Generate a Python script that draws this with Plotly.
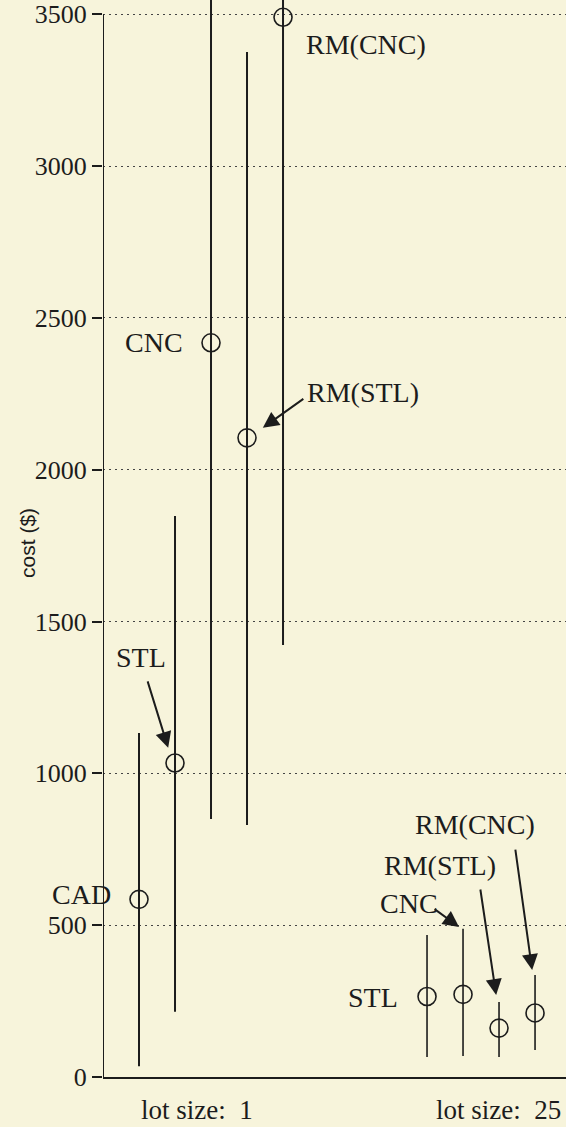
import plotly.graph_objects as go

# ---- data ----
lot1_labels = ["CAD", "STL", "CNC", "RM(STL)", "RM(CNC)"]
lot1_cost = [585, 1034, 2418, 2105, 3490]
lot1_low = [35, 215, 850, 830, 1423]
lot1_high = [1133, 1848, 3700, 3376, 3700]

lot25_labels = ["STL", "CNC", "RM(STL)", "RM(CNC)"]
lot25_cost = [265, 272, 161, 211]
lot25_low = [66, 69, 66, 89]
lot25_high = [468, 488, 247, 336]

group_labels = ["lot size:\u00a0\u00a01", "lot size:\u00a0\u00a025"]
y_ticks = [0, 500, 1000, 1500, 2000, 2500, 3000, 3500]

INK = "#1c1c1c"
BG = "rgb(247,244,219)"
SERIF = "Liberation Serif"

x1 = [i + 1 for i in range(len(lot1_cost))]
x25 = [i + 9 for i in range(len(lot25_cost))]

fig = go.Figure()


def add_series(xs, cost, low, high, thick):
    fig.add_trace(go.Scatter(
        x=xs, y=cost, mode="markers",
        marker=dict(symbol="circle-open", size=18, color=INK,
                    line=dict(width=1.6, color=INK)),
        error_y=dict(type="data", symmetric=False,
                     array=[h - c for h, c in zip(high, cost)],
                     arrayminus=[c - l for c, l in zip(cost, low)],
                     width=0, thickness=thick, color=INK),
        showlegend=False, hoverinfo="skip"))


add_series(x1, lot1_cost, lot1_low, lot1_high, 2.0)
add_series(x25, lot25_cost, lot25_low, lot25_high, 1.6)

# y axis line only up to the top tick
fig.add_shape(type="line", xref="x", yref="y", x0=0, x1=0, y0=0, y1=3500,
              line=dict(color=INK, width=2))

tf = dict(family=SERIF, size=28, color=INK)
anns = []
# plain labels
anns.append(dict(x=7.3, y=3399, text="RM(CNC)"))
anns.append(dict(x=2.28, y=2418, text="CNC", xanchor="right"))
anns.append(dict(x=0.28, y=600, text="CAD", xanchor="right"))
anns.append(dict(x=1.06, y=1383, text="STL"))
anns.append(dict(x=7.22, y=2253, text="RM(STL)"))
anns.append(dict(x=8.25, y=263, text="STL", xanchor="right"))
anns.append(dict(x=8.5, y=570, text="CNC"))
anns.append(dict(x=9.36, y=698, text="RM(STL)"))
anns.append(dict(x=10.33, y=830, text="RM(CNC)"))
for a in anns:
    a.update(xref="x", yref="y", showarrow=False, font=tf)
    a.setdefault("xanchor", "center")
    a["yanchor"] = "middle"

# arrows (tip at data point, tail offset in px)
arrows = [
    (1.81, 1084, -21, -68),
    (4.44, 2138, 42, -30),
    (9.89, 494, -26, -19),
    (10.92, 270, -16, -107),
    (11.92, 352, -17, -122),
]
for x, y, ax, ay in arrows:
    anns.append(dict(x=x, y=y, xref="x", yref="y", ax=ax, ay=ay, text="",
                     showarrow=True, arrowhead=2, arrowsize=1.6,
                     arrowwidth=2, arrowcolor=INK, standoff=0))

# group labels under axis
gf = dict(family=SERIF, size=27, color=INK)
anns.append(dict(x=2.62, y=0, xref="x", yref="y", text=group_labels[0],
                 showarrow=False, xanchor="center", yanchor="top",
                 yshift=-16, font=gf))
anns.append(dict(x=12.78, y=0, xref="x", yref="y", text=group_labels[1],
                 showarrow=False, xanchor="right", yanchor="top",
                 yshift=-16, font=gf))

# y axis title
anns.append(dict(x=(28 - 103) / 463, y=1759, xref="paper", yref="y",
                 text="cost ($)", showarrow=False, textangle=-90,
                 xanchor="center", yanchor="middle",
                 font=dict(family="Liberation Sans", size=21, color=INK)))

fig.update_layout(
    width=566, height=1127,
    margin=dict(l=103, r=0, t=0, b=50),
    paper_bgcolor=BG, plot_bgcolor=BG,
    annotations=anns,
    xaxis=dict(range=[0, 12.86], showgrid=False, zeroline=False,
               showline=True, linecolor=INK, linewidth=2,
               showticklabels=False, ticks=""),
    yaxis=dict(range=[0, 3547], tickvals=y_ticks, showgrid=True,
               gridcolor="#444", gridwidth=1.4, griddash="2px,4px",
               zeroline=False, showline=False, ticks="outside",
               ticklen=10, tickwidth=1.5, tickcolor=INK,
               tickfont=dict(family=SERIF, size=26, color=INK)),
)

fig.write_html(
    "out.html",
    config={"displayModeBar": False},
    post_script="document.body.style.margin='0';"
                "document.body.style.background='rgb(247,244,219)';",
)
